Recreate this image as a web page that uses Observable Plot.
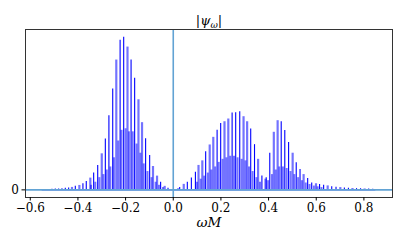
<!DOCTYPE html>
<html><head><meta charset="utf-8">
<script src="https://cdn.jsdelivr.net/npm/d3@7"></script>
<script src="https://cdn.jsdelivr.net/npm/@observablehq/plot@0.6"></script>
<style>body{margin:0;background:#fff}</style>
</head><body><div id="chart"></div>
<script>
// dark (solid blue) spikes
const darkOmega = [-0.55,-0.537,-0.524,-0.509,-0.495,-0.481,-0.467,-0.453,-0.439,-0.411,-0.379,-0.365,-0.334,-0.317,-0.285,-0.270,-0.254,-0.223,-0.208,-0.177,-0.162,-0.116,-0.099,-0.053,-0.022,
  0.020,0.027,0.059,0.076,0.093,0.136,0.184,0.199,0.247,0.262,0.279,0.325,0.341,0.372,
  0.390,0.405,0.453,0.468,0.484,0.516,0.532,0.564,0.581,0.614,0.631,0.665,0.683,0.718,0.735,0.769,0.786,0.820,0.837,0.850];
const darkAmp = [0.002,0.002,0.003,0.004,0.005,0.006,0.008,0.010,0.012,0.023,0.040,0.055,0.110,0.160,0.333,0.485,0.66,0.98,1.0,0.85,0.73,0.335,0.225,0.05,0.01,
  0.008,0.015,0.05,0.077,0.115,0.25,0.39,0.435,0.503,0.505,0.511,0.399,0.296,0.09,
  0.08,0.24,0.446,0.388,0.31,0.177,0.134,0.075,0.045,0.035,0.03,0.02,0.017,0.013,0.011,0.008,0.007,0.005,0.004,0.003];
// light (translucent) spikes
const lightOmega = [-0.425,-0.394,-0.348,-0.300,-0.239,-0.192,-0.146,-0.131,-0.085,-0.068,-0.036,
  0.044,0.106,0.122,0.153,0.168,0.215,0.231,0.295,0.310,0.356,0.387,
  0.422,0.438,0.501,0.547,0.599,0.648,0.701,0.752,0.803];
const lightAmp = [0.016,0.029,0.077,0.236,0.85,0.935,0.59,0.44,0.153,0.09,0.023,
  0.036,0.16,0.19,0.294,0.344,0.446,0.464,0.479,0.446,0.2,0.07,
  0.377,0.453,0.24,0.1,0.04,0.026,0.015,0.009,0.006];
// lower secondary spikes
const echoOmega = [-0.345,-0.327,-0.310,-0.293,-0.279,-0.264,-0.249,-0.231,-0.217,-0.200,-0.186,-0.170,-0.154,-0.138,-0.124,-0.108,-0.091,-0.074,-0.060,-0.043,
  0.100,0.115,0.130,0.145,0.160,0.176,0.191,0.207,0.223,0.239,0.255,0.270,0.287,0.303,0.318,0.333,0.349,0.364,
  0.398,0.414,0.430,0.445,0.460,0.476,0.492,0.508,0.524,0.540,0.556,0.572,0.590,0.606,0.622];
const echoAmp = [0.03,0.05,0.08,0.10,0.13,0.15,0.21,0.32,0.39,0.40,0.38,0.38,0.30,0.24,0.17,0.12,0.08,0.05,0.03,0.015,
  0.05,0.07,0.09,0.11,0.13,0.15,0.18,0.20,0.21,0.22,0.22,0.21,0.20,0.19,0.15,0.12,0.08,0.05,
  0.06,0.10,0.13,0.15,0.15,0.14,0.12,0.10,0.08,0.06,0.045,0.035,0.025,0.02,0.015];
const xTicks = [-0.6,-0.4,-0.2,0.0,0.2,0.4,0.6,0.8];
const yTicks = [0];
const titleText = "|ψω|";
const xLabel = "ωM";

const dark = darkOmega.map((w,i)=>({w, a: darkAmp[i]}));
const light = lightOmega.map((w,i)=>({w, a: lightAmp[i]}));
const echo = echoOmega.map((w,i)=>({w, a: echoAmp[i]}));
const span = d3.extent([...darkOmega, ...lightOmega]);
const fmt = d => (d < 0 ? "\u2212" : "") + Math.abs(d).toFixed(1);

const chart = Plot.plot({
  width: 407, height: 244,
  marginLeft: 25, marginRight: 15, marginTop: 29, marginBottom: 47,
  x: {domain: [-0.62, 0.92]},
  y: {domain: [-0.05, 1.05]},
  style: {fontFamily: "'DejaVu Serif', serif", fontSize: "12px", background: "#fff", color: "#000"},
  marks: [
    Plot.ruleX(echo, {x: "w", y1: 0, y2: "a", stroke: "blue", strokeOpacity: 0.55, strokeWidth: 2}),
    Plot.ruleX(light, {x: "w", y1: 0, y2: "a", stroke: "blue", strokeOpacity: 0.55, strokeWidth: 2.2}),
    Plot.ruleX(dark, {x: "w", y1: 0, y2: "a", stroke: "blue", strokeWidth: 1.1}),
    Plot.ruleY([0], {x1: span[0], x2: span[1], stroke: "blue", strokeWidth: 1}),
    Plot.ruleY([0], {stroke: "#62a3d4", strokeWidth: 1.6}),
    Plot.ruleX([0], {stroke: "#62a3d4", strokeWidth: 1.6}),
    Plot.frame({stroke: "#333", strokeWidth: 1}),
    Plot.axisX({ticks: xTicks, tickFormat: fmt, tickSize: 3.5, tickPadding: 2, label: null, fontSize: 12}),
    Plot.axisY({ticks: yTicks, tickFormat: d => String(d), tickSize: 3.5, tickPadding: 3, label: null, fontSize: 12}),
    Plot.text([titleText], {frameAnchor: "top", dy: -9, fontSize: 13, fontStyle: "italic", lineAnchor: "middle", fill: "#000"}),
    Plot.text([xLabel], {frameAnchor: "bottom", dy: 25, fontSize: 13.5, fontStyle: "italic", lineAnchor: "middle", fill: "#000"})
  ]
});
document.getElementById("chart").appendChild(chart);
// subscript for the title
d3.select(chart).selectAll("text").filter(function(){ return this.textContent === titleText; })
  .each(function(){
    const t = d3.select(this);
    t.text(null);
    t.append("tspan").text("|ψ");
    t.append("tspan").attr("font-size", 9).attr("dy", 3).text("ω");
    t.append("tspan").attr("dy", -3).text("|");
  });
</script>
</body></html>
